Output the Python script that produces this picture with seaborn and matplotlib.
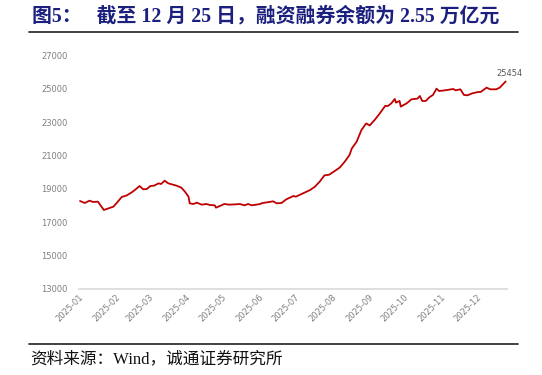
import matplotlib
matplotlib.use("Agg")
import matplotlib.pyplot as plt
import matplotlib.dates as mdates
from matplotlib.lines import Line2D
import pandas as pd
import seaborn as sns

# data (margin balance, 100 million yuan)
dates = [
    "2025-01-02", "2025-01-06", "2025-01-10", "2025-01-13", "2025-01-17", "2025-01-22",
    "2025-01-30", "2025-02-02", "2025-02-06", "2025-02-10", "2025-02-14", "2025-02-17",
    "2025-02-21", "2025-02-24", "2025-02-27", "2025-03-02", "2025-03-05", "2025-03-09",
    "2025-03-11", "2025-03-14", "2025-03-17", "2025-03-24", "2025-03-28", "2025-03-31",
    "2025-04-03", "2025-04-04", "2025-04-07", "2025-04-10", "2025-04-14", "2025-04-18",
    "2025-04-21", "2025-04-25", "2025-04-26", "2025-04-30", "2025-05-03", "2025-05-07",
    "2025-05-13", "2025-05-16", "2025-05-20", "2025-05-23", "2025-05-26", "2025-05-30",
    "2025-06-02", "2025-06-04", "2025-06-08", "2025-06-13", "2025-06-16", "2025-06-20",
    "2025-06-24", "2025-06-30", "2025-07-02", "2025-07-08", "2025-07-14", "2025-07-18",
    "2025-07-22", "2025-07-26", "2025-07-30", "2025-08-04", "2025-08-08", "2025-08-12",
    "2025-08-16", "2025-08-18", "2025-08-22", "2025-08-26", "2025-08-30", "2025-09-02",
    "2025-09-06", "2025-09-10", "2025-09-15", "2025-09-17", "2025-09-20", "2025-09-23",
    "2025-09-24", "2025-09-27", "2025-09-28", "2025-10-03", "2025-10-07", "2025-10-12",
    "2025-10-14", "2025-10-16", "2025-10-19", "2025-10-22", "2025-10-25", "2025-10-28",
    "2025-10-30", "2025-11-02", "2025-11-06", "2025-11-11", "2025-11-13", "2025-11-17",
    "2025-11-20", "2025-11-23", "2025-11-27", "2025-12-02", "2025-12-04", "2025-12-09",
    "2025-12-12", "2025-12-17", "2025-12-20", "2025-12-25",
]
balance = [
    18270, 18150, 18290, 18210, 18230, 17730,
    17930, 18170, 18510, 18600, 18770, 18930,
    19170, 18970, 18990, 19170, 19190, 19330,
    19290, 19490, 19330, 19190, 19070, 18830,
    18530, 18130, 18090, 18170, 18050, 18090,
    18030, 18010, 17870, 17990, 18090, 18050,
    18070, 18090, 18010, 18090, 18010, 18050,
    18090, 18150, 18190, 18250, 18130, 18150,
    18370, 18570, 18530, 18730, 18930, 19130,
    19430, 19810, 19850, 20090, 20290, 20630,
    21030, 21430, 21830, 22530, 22930, 22810,
    23130, 23490, 23990, 23970, 24130, 24400,
    24180, 24280, 23940, 24140, 24380, 24420,
    24580, 24280, 24280, 24500, 24640, 25020,
    24880, 24900, 24940, 25000, 24920, 24980,
    24640, 24620, 24740, 24820, 24820, 25080,
    24980, 24980, 25080, 25454,
]
month_ticks = ["2025-01", "2025-02", "2025-03", "2025-04", "2025-05", "2025-06",
               "2025-07", "2025-08", "2025-09", "2025-10", "2025-11", "2025-12"]
y_ticks = [13000, 15000, 17000, 19000, 21000, 23000, 25000, 27000]

title = "图5：   截至 12 月 25 日，融资融券余额为 2.55 万亿元"
source = "资料来源：Wind，诚通证券研究所"

df = pd.DataFrame({"date": pd.to_datetime(dates), "balance": balance})

sns.set_style("white")
plt.rcParams["font.family"] = ["DejaVu Sans", "Noto Sans CJK SC"]

fig = plt.figure(figsize=(5.42, 3.75), dpi=100)
ax = fig.add_axes([0.1454, 0.2301, 0.7898, 0.6214])

sns.lineplot(data=df, x="date", y="balance", ax=ax, color="#C00000", linewidth=1.3)

ax.set_xlim(pd.Timestamp("2025-01-01"), pd.Timestamp("2025-12-26"))
ax.set_ylim(13000, 27000)
ax.set_yticks(y_ticks)
ax.set_yticklabels([str(v) for v in y_ticks])
ax.set_xticks(pd.to_datetime(month_ticks))
ax.xaxis.set_major_formatter(mdates.DateFormatter("%Y-%m"))
ax.tick_params(axis="both", length=0, labelsize=6, labelcolor="#7F7F7F")
ax.tick_params(axis="y", pad=8)
ax.tick_params(axis="x", pad=3)
for lab in ax.get_xticklabels():
    lab.set_rotation(45)
    lab.set_ha("right")
    lab.set_rotation_mode("anchor")
ax.set_xlabel("")
ax.set_ylabel("")

for side in ["top", "right", "left"]:
    ax.spines[side].set_visible(False)
ax.spines["bottom"].set_color("#D9D9D9")
ax.spines["bottom"].set_linewidth(1.2)

# label on the last point
ax.annotate(f"{balance[-1]}", xy=(df["date"].iloc[-1], balance[-1]),
            xytext=(3, 2.5), textcoords="offset points", ha="center", va="bottom",
            fontsize=6, color="#595959")

# title, rules and source
fig.text(0.059, 0.957, title, fontsize=14.3, fontweight="bold", color="#1B1F7E",
         family=["Liberation Serif", "Noto Sans CJK SC"], ha="left", va="center")
fig.add_artist(Line2D([0.053, 0.956], [0.915, 0.915], color="#333333", linewidth=1.3))
fig.add_artist(Line2D([0.053, 0.956], [0.082, 0.082], color="#333333", linewidth=1.3))
fig.text(0.055, 0.043, source, fontsize=12, color="#111111",
         family=["Liberation Serif", "Noto Sans CJK SC"], ha="left", va="center")

fig.savefig("out.png", dpi=100)
